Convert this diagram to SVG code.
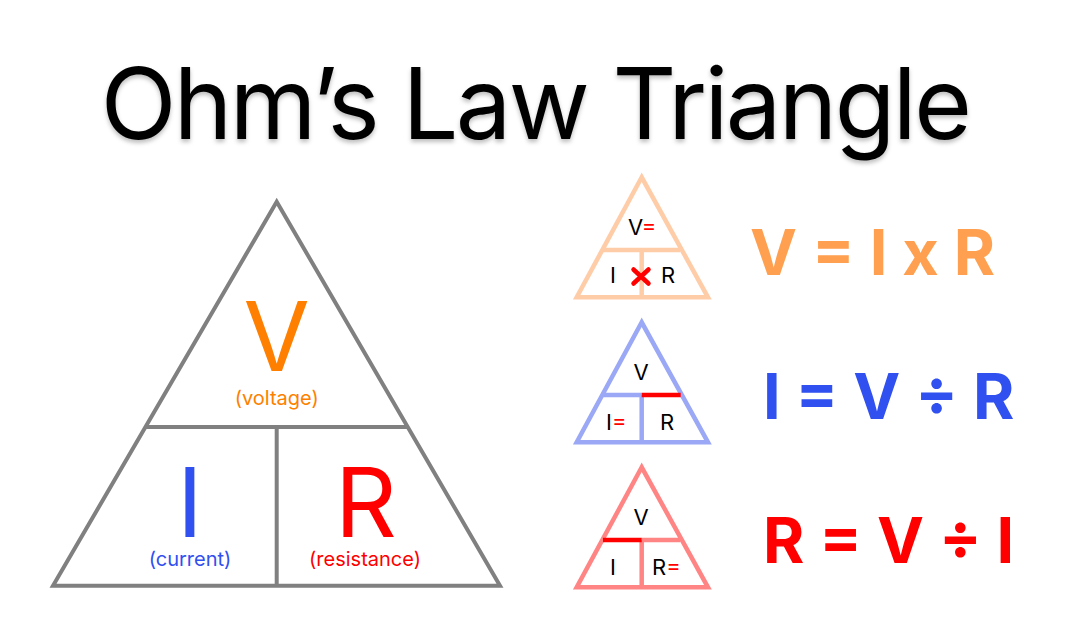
<svg xmlns="http://www.w3.org/2000/svg" width="1069" height="638" viewBox="0 0 1069 638">
<defs>
<style>
text{font-family:Inter,"Noto Sans","Liberation Sans",sans-serif;}
.title{font-size:99px;fill:#000;letter-spacing:-2.6px;}
.big{font-size:96px;text-anchor:middle;}
.sub{font-size:20px;text-anchor:middle;}
.sm{font-size:22px;fill:#000;}
.eq{font-size:63px;font-weight:700;}
.tri{fill:none;stroke-width:4;stroke-linejoin:miter;}
.stri{fill:none;stroke-width:4.5;stroke-linejoin:miter;}
.red{fill:#ff0000;}
</style>
<filter id="sh" x="-5%" y="-5%" width="110%" height="120%">
<feDropShadow dx="0" dy="3" stdDeviation="2" flood-color="#000" flood-opacity="0.25"/>
</filter>
</defs>
<rect width="1069" height="638" fill="#fff"/>
<text class="title" x="535" y="139" text-anchor="middle" filter="url(#sh)">Ohm’s Law Triangle</text>

<g id="main-triangle">
<path class="tri" stroke="#808080" d="M276.7,201.7 L53,585.7 L500,585.7 Z M146.7,427 L406.7,427 M276.7,427 L276.7,585.7"/>
<text class="big" x="276.7" y="371" fill="#ff7f00">V</text>
<text class="sub" x="276.7" y="405" fill="#ff7f00">(voltage)</text>
<text class="big" x="190" y="537" fill="#3050f0">I</text>
<text class="sub" x="190" y="566" fill="#3050f0">(current)</text>
<text class="big" x="366" y="537" fill="#ff0000">R</text>
<text class="sub" x="365" y="566" fill="#ff0000">(resistance)</text>
</g>

<g id="tri-v">
<path class="stri" stroke="#ffcca8" d="M641.7,177.3 L576.7,297.3 L708,297.3 Z M603,250 L680,250 M641.7,250 L641.7,297.3"/>
<text class="sm" x="628" y="235">V<tspan class="red">=</tspan></text>
<text class="sm" x="613" y="283" text-anchor="middle">I</text>
<text class="sm" x="668" y="283" text-anchor="middle">R</text>
<path d="M633.5,269.5 L648.5,283.5 M648.5,269.5 L633.5,283.5" stroke="#ff0000" stroke-width="4.5" stroke-linecap="round"/>
</g>

<g id="tri-i">
<path class="stri" stroke="#9aa8f5" d="M641.7,322.3 L576.7,442.3 L708,442.3 Z M603,395 L641.7,395 M641.7,395 L641.7,442.3"/>
<path d="M641.7,395 L680.7,395" stroke="#ff0000" stroke-width="4.5"/>
<text class="sm" x="641" y="380" text-anchor="middle">V</text>
<text class="sm" x="606" y="430">I<tspan class="red">=</tspan></text>
<text class="sm" x="667" y="430" text-anchor="middle">R</text>
</g>

<g id="tri-r">
<path class="stri" stroke="#ff8585" d="M641.7,467.3 L576.7,587.3 L708,587.3 Z M641.7,540 L680,540 M641.7,540 L641.7,587.3"/>
<path d="M603,540 L641.7,540" stroke="#ff0000" stroke-width="4.5"/>
<text class="sm" x="641" y="525" text-anchor="middle">V</text>
<text class="sm" x="613" y="575" text-anchor="middle">I</text>
<text class="sm" x="652" y="575">R<tspan class="red">=</tspan></text>
</g>

<g id="equations">
<text class="eq" x="750" y="275" fill="#ffa050">V = I x R</text>
<text class="eq" x="763" y="419" fill="#3050f0">I = V ÷ R</text>
<text class="eq" x="763" y="563" fill="#ff0000">R = V ÷ I</text>
</g>
</svg>
